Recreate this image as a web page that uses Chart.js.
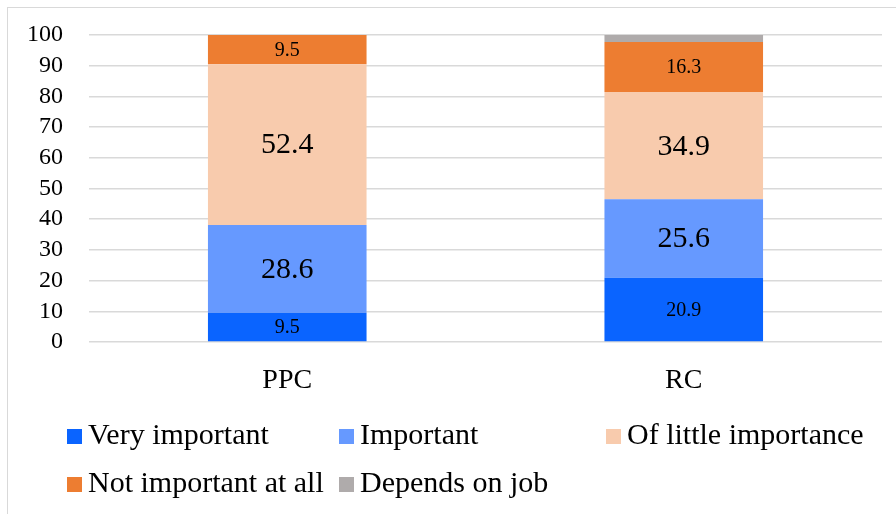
<!DOCTYPE html>
<html>
<head>
<meta charset="utf-8">
<script src="https://cdn.jsdelivr.net/npm/chart.js@4/dist/chart.umd.min.js"></script>
<style>
  html, body { margin: 0; padding: 0; background: #fff; }
  #wrap { position: relative; width: 896px; height: 514px; overflow: hidden; font-family: "Liberation Serif", "Times New Roman", serif; }
  #frame { position: absolute; left: 7px; top: 7px; width: 1000px; height: 1000px; border: 1px solid #d9d9d9; box-sizing: border-box; }
  canvas { position: absolute; left: 0; top: 0; }
  #legend { position: absolute; left: 67px; top: 416px; display: grid; grid-template-columns: 272px 267px auto; row-gap: 13px; }
  .item { display: flex; align-items: baseline; font-size: 30px; line-height: 35px; color: #000; white-space: nowrap; }
  .box { display: inline-block; width: 15px; height: 15px; margin-right: 6px; }
</style>
</head>
<body>
<div id="wrap">
  <div id="frame"></div>
  <canvas id="c" width="896" height="514"></canvas>
  <div id="legend"></div>
</div>
<script>
const categories = ["PPC", "RC"];
const seriesNames = ["Very important", "Important", "Of little importance", "Not important at all", "Depends on job"];
const veryImportant = [9.5, 20.9];
const important = [28.6, 25.6];
const littleImportance = [52.4, 34.9];
const notImportant = [9.5, 16.3];
const dependsOnJob = [0, 2.3];
const yTicks = [0, 10, 20, 30, 40, 50, 60, 70, 80, 90, 100];

const colors = ["#0a64ff", "#6699ff", "#f8cbad", "#ed7d31", "#afabab"];
const seriesValues = [veryImportant, important, littleImportance, notImportant, dependsOnJob];

const FONT = "'Liberation Serif', 'Times New Roman', serif";

const labelPlugin = {
  id: 'segLabels',
  afterDatasetsDraw(chart) {
    const ctx = chart.ctx;
    chart.data.datasets.forEach((ds, di) => {
      const meta = chart.getDatasetMeta(di);
      meta.data.forEach((bar, i) => {
        const v = ds.data[i];
        if (!v || v < 5) return;
        const size = v >= 25 ? 30 : 20;
        ctx.save();
        ctx.font = size + "px " + FONT;
        ctx.fillStyle = "#000";
        ctx.textAlign = "center";
        ctx.textBaseline = "middle";
        ctx.fillText(v.toFixed(1), bar.x, (bar.y + bar.base) / 2 + 1);
        ctx.restore();
      });
    });
  }
};

const chart = new Chart(document.getElementById('c'), {
  type: 'bar',
  data: {
    labels: categories,
    datasets: seriesNames.map((n, k) => ({
      label: n,
      data: seriesValues[k],
      backgroundColor: colors[k],
      borderWidth: 0,
      barPercentage: 0.4,
      categoryPercentage: 1.0
    }))
  },
  options: {
    responsive: false,
    animation: false,
    layout: { padding: { left: 0, top: 35, right: 14, bottom: 112 } },
    plugins: { legend: { display: false }, tooltip: { enabled: false } },
    scales: {
      x: {
        stacked: true,
        grid: { display: false, drawTicks: false },
        border: { display: false },
        ticks: { color: "#000", font: { family: FONT, size: 28 }, padding: 22 },
        afterFit(s) { s.height = 60; s.paddingLeft = 0; s.paddingRight = 0; }
      },
      y: {
        stacked: true,
        min: 0, max: 100,
        afterBuildTicks(s) { s.ticks = yTicks.map(v => ({ value: v })); },
        grid: { color: "#d9d9d9", lineWidth: 1.5, drawTicks: false },
        border: { display: false },
        ticks: { color: "#000", font: { family: FONT, size: 24 }, padding: 26, autoSkip: false },
        afterFit(s) { s.width = 89; s.paddingTop = 0; s.paddingBottom = 0; }
      }
    }
  },
  plugins: [labelPlugin]
});

const legend = document.getElementById('legend');
chart.data.datasets.forEach(ds => {
  const it = document.createElement('div');
  it.className = 'item';
  const b = document.createElement('span');
  b.className = 'box';
  b.style.background = ds.backgroundColor;
  const t = document.createElement('span');
  t.textContent = ds.label;
  it.appendChild(b); it.appendChild(t);
  legend.appendChild(it);
});
</script>
</body>
</html>
